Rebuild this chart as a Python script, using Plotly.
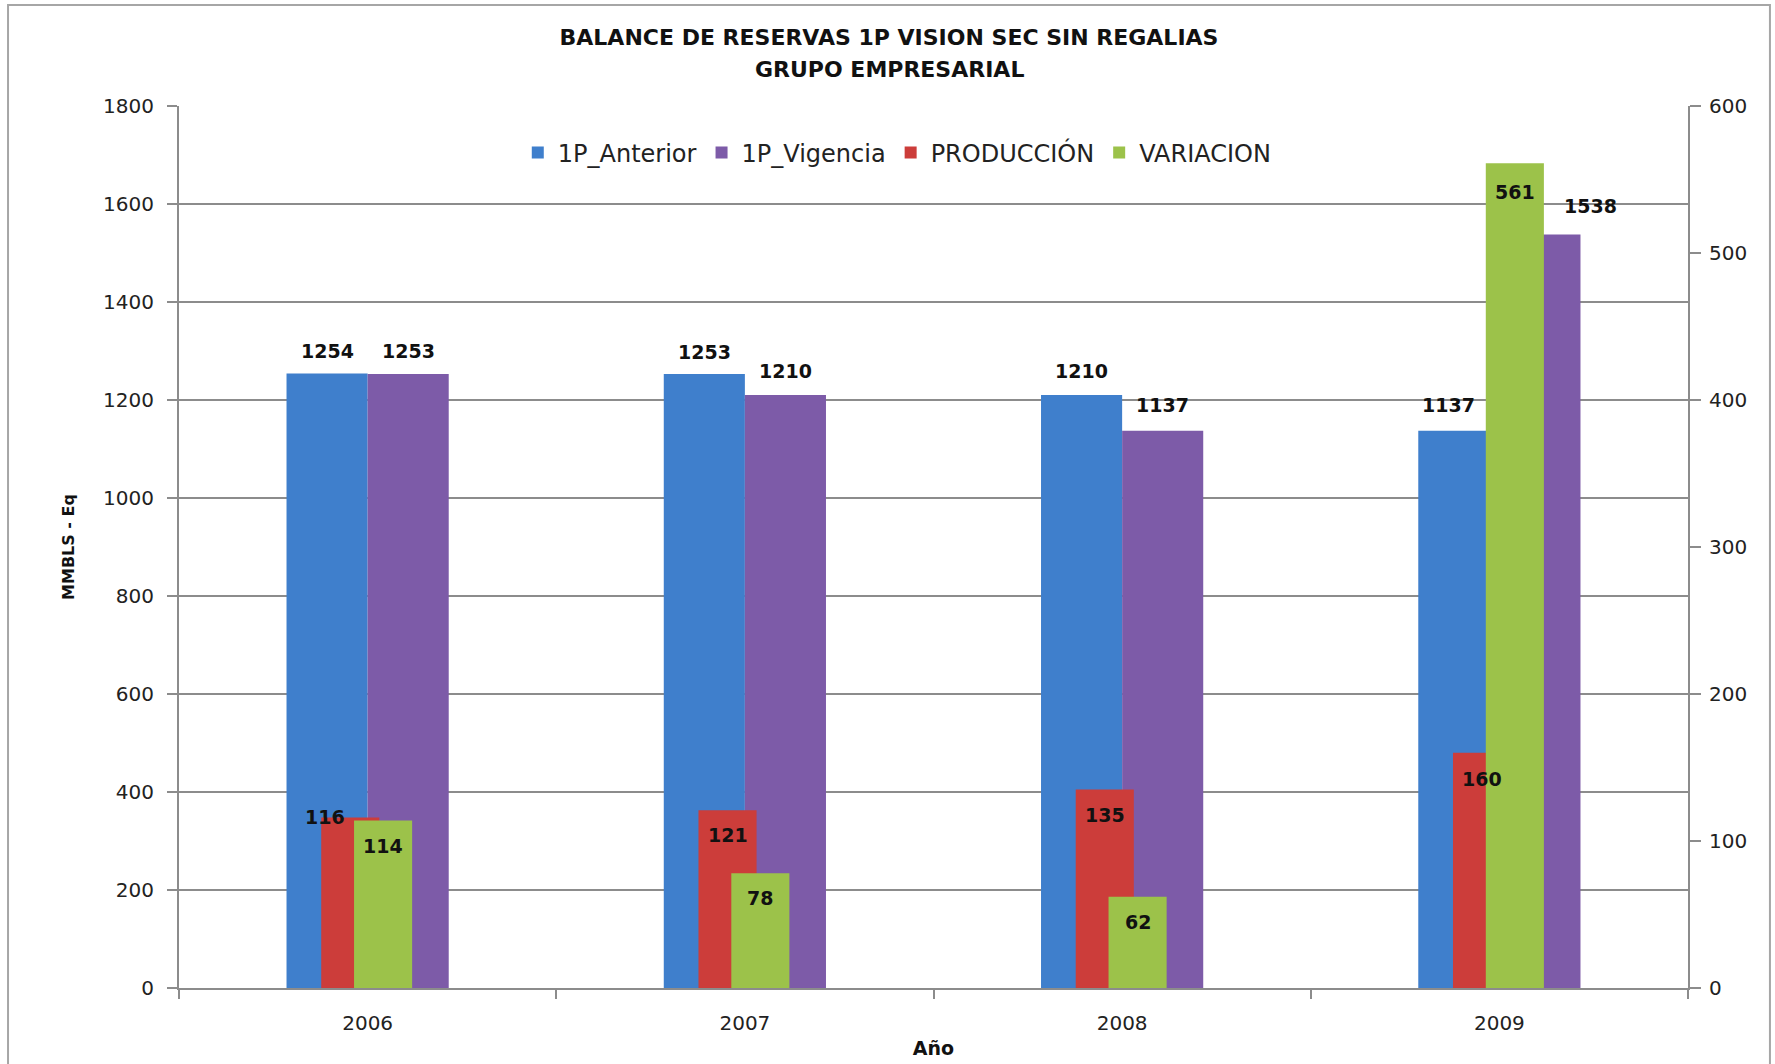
import plotly.graph_objects as go

# ---------------- data ----------------
years = ["2006", "2007", "2008", "2009"]
anterior = [1254, 1253, 1210, 1137]      # primary axis
vigencia = [1253, 1210, 1137, 1538]      # primary axis
produccion = [116, 121, 135, 160]        # secondary axis
variacion = [114, 78, 62, 561]           # secondary axis

y_ticks = [0, 200, 400, 600, 800, 1000, 1200, 1400, 1600, 1800]
y2_ticks = [0, 100, 200, 300, 400, 500, 600]

title_line1 = "BALANCE DE RESERVAS 1P VISION SEC SIN REGALIAS"
title_line2 = "GRUPO EMPRESARIAL"

# ---------------- style ----------------
FONT = "DejaVu Sans"
GRID = "#8c8c8c"
TXT = "#222222"
C_BLUE, C_PURP, C_RED, C_GREEN = "#3f7fcc", "#7d5ba8", "#cc3d3a", "#9cc24a"

W_MAIN, W_SEC = 0.215, 0.154
# left-edge offsets (category units)
OFF_BLUE, OFF_PURP = -W_MAIN, 0.0
OFF_RED, OFF_GREEN = -0.123, -0.036

idx = list(range(len(years)))

fig = go.Figure()
fig.add_trace(go.Bar(name="1P_Anterior", x=years, y=anterior, yaxis="y",
                     width=W_MAIN, offset=OFF_BLUE, marker=dict(color=C_BLUE, line=dict(width=0))))
fig.add_trace(go.Bar(name="1P_Vigencia", x=years, y=vigencia, yaxis="y",
                     width=W_MAIN, offset=OFF_PURP, marker=dict(color=C_PURP, line=dict(width=0))))
fig.add_trace(go.Bar(name="PRODUCCIÓN", x=years, y=produccion, yaxis="y2",
                     width=W_SEC, offset=OFF_RED, marker=dict(color=C_RED, line=dict(width=0))))
fig.add_trace(go.Bar(name="VARIACION", x=years, y=variacion, yaxis="y2",
                     width=W_SEC, offset=OFF_GREEN, marker=dict(color=C_GREEN, line=dict(width=0))))

# ---------------- data labels ----------------
label_font = dict(family=FONT, size=19, color="#111111", weight="bold")
series_labels = [
    (anterior, "y", OFF_BLUE + W_MAIN / 2, [0, 0, 0, -10], [23, 22, 24, 26]),
    (vigencia, "y", OFF_PURP + W_MAIN / 2, [0, 0, 0, 51], [23, 24, 26, 28]),
    (produccion, "y2", OFF_RED + W_SEC / 2, [-25, 0, 0, 0], [0, -25, -25, -26]),
    (variacion, "y2", OFF_GREEN + W_SEC / 2, [0, 0, 0, 0], [-26, -25, -25, -29]),
]
for vals, yref, center, xsh, ysh in series_labels:
    for i, v in enumerate(vals):
        fig.add_annotation(x=idx[i] + center, y=v, xref="x", yref=yref,
                           text=str(v), showarrow=False, font=label_font,
                           xanchor="center", yanchor="middle",
                           xshift=xsh[i], yshift=ysh[i])

# second title line
fig.add_annotation(text=title_line2, xref="paper", yref="paper",
                   x=(889 - 179) / 1509, y=(988 - 69.5) / 882,
                   xanchor="center", yanchor="middle", showarrow=False,
                   font=dict(family=FONT, size=22, color="#111111", weight="bold"))

# ---------------- outer chart border ----------------
fig.add_shape(type="rect", xref="paper", yref="paper",
              x0=-0.1133, x1=1.0543, y0=-0.1, y1=1.1145,
              line=dict(color="#a6a6a6", width=2), fillcolor="rgba(0,0,0,0)", layer="below")

fig.update_layout(
    width=1775, height=1064,
    margin=dict(l=179, r=87, t=106, b=76, autoexpand=False),
    paper_bgcolor="white", plot_bgcolor="white",
    barmode="overlay",
    font=dict(family=FONT, color=TXT),
    title=dict(text=title_line1,
               x=889 / 1775, xref="container", xanchor="center",
               y=1 - 37.5 / 1064, yref="container", yanchor="middle",
               font=dict(family=FONT, size=22, color="#111111", weight="bold")),
    legend=dict(orientation="h", x=0.476, xanchor="center", y=0.9467, yanchor="middle",
                font=dict(family=FONT, size=24, color=TXT), bgcolor="rgba(0,0,0,0)",
                traceorder="normal", itemwidth=30),
    xaxis=dict(type="category", categoryorder="array", categoryarray=years,
               range=[-0.5, 3.5], tickson="boundaries", ticks="outside", ticklen=9,
               tickwidth=2, tickcolor=GRID, showline=True, linecolor=GRID, linewidth=2,
               showgrid=False, tickfont=dict(family=FONT, size=20, color=TXT),
               ticklabelstandoff=16,
               title=dict(text="Año", font=dict(family=FONT, size=19, color="#111111", weight="bold"),
                          standoff=8)),
    yaxis=dict(range=[0, 1800], tickvals=y_ticks, ticks="outside", ticklen=10, tickwidth=2,
               tickcolor=GRID, showline=True, linecolor=GRID, linewidth=2,
               showgrid=True, gridcolor=GRID, gridwidth=2, zeroline=False,
               tickfont=dict(family=FONT, size=20, color=TXT),
               ticklabelstandoff=9,
               title=dict(text="MMBLS - Eq", font=dict(family=FONT, size=16, color="#111111", weight="bold"),
                          standoff=24)),
    yaxis2=dict(range=[0, 600], tickvals=y2_ticks, overlaying="y", side="right",
                ticks="outside", ticklen=11, tickwidth=2, tickcolor=GRID,
                showline=True, linecolor=GRID, linewidth=2, showgrid=False, zeroline=False,
                ticklabelstandoff=4,
                tickfont=dict(family=FONT, size=20, color=TXT)),
)

fig.write_html("out.html", config={"displayModeBar": False},
               post_script="document.body.style.margin='0';document.body.style.overflow='hidden';")
